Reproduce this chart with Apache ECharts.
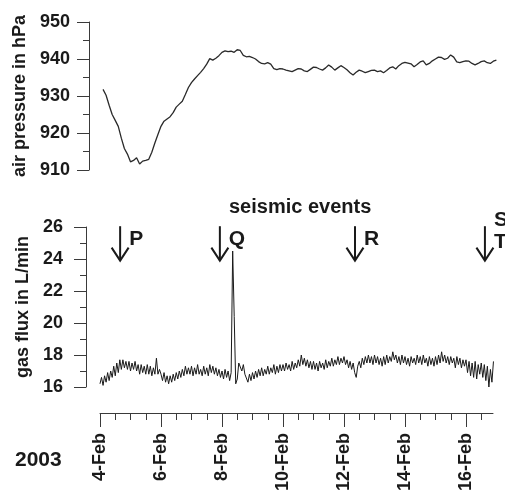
<!DOCTYPE html>
<html><head><meta charset="utf-8">
<script src="https://cdn.jsdelivr.net/npm/echarts@6/dist/echarts.min.js"></script>
<style>html,body{margin:0;padding:0;background:#fff}#c{width:505px;height:495px}</style>
</head><body><div id="c"></div>
<script>
// ---- data ----
const pressureStartDay = 4.1;
const pressureStepDay = 0.1;
const pressureValues = [
 931.8,930.2,927.5,925.0,923.4,921.8,918.6,915.8,914.3,912.2,
 912.6,913.3,911.6,912.4,912.6,912.9,914.8,917.3,919.6,921.8,
 923.2,923.8,924.4,925.5,927.0,927.8,928.6,930.4,932.3,933.6,
 934.6,935.5,936.4,937.4,938.6,940.1,939.7,940.2,940.9,941.8,
 942.2,942.0,942.1,941.8,942.5,942.3,941.0,940.6,940.7,940.4,
 940.0,939.3,938.8,938.7,939.0,938.6,937.4,937.1,937.4,937.3,
 937.0,936.8,936.6,937.0,937.4,937.3,936.8,936.6,937.2,937.8,
 937.7,937.3,937.0,937.6,938.4,937.8,937.0,937.6,938.2,937.7,
 937.1,936.3,935.7,936.4,937.0,936.7,936.3,936.6,936.9,937.0,
 936.6,936.8,936.3,936.9,937.6,937.9,937.3,938.2,938.8,939.1,
 938.9,938.7,937.9,938.5,939.2,939.5,938.4,938.8,939.5,940.0,
 940.5,940.4,939.9,940.2,941.1,940.5,939.2,939.0,939.3,939.5,
 939.4,938.8,938.4,938.8,939.3,939.5,939.0,938.8,939.4,939.7
];
const gasStartDay = 4.0;
const gasStepDay = 0.05;
const gasValues = [
 16.2,16.6,16.1,16.7,16.3,16.9,16.4,17.0,16.6,17.3,16.7,17.5,16.9,17.7,17.1,17.7,17.2,17.6,17.1,17.6,
 17.0,17.5,17.1,17.6,17.0,17.4,16.8,17.4,16.9,17.3,16.8,17.4,16.8,17.3,16.7,17.2,16.8,17.8,16.8,17.1,
 16.8,16.4,16.9,16.3,16.7,16.2,16.7,16.3,16.8,16.4,16.9,16.5,17.0,16.6,17.1,16.7,17.3,16.8,17.2,16.8,
 17.3,16.7,17.2,16.8,17.4,16.8,17.1,16.7,17.3,16.8,17.2,16.7,17.4,16.9,17.3,16.8,17.2,16.7,17.1,16.6,
 17.0,16.5,17.1,16.6,17.0,16.4,16.9,24.5,20.4,16.2,16.5,17.5,17.6,17.0,17.4,16.8,16.9,16.3,16.8,16.4,
 16.9,16.5,17.0,16.6,17.1,16.7,17.2,16.7,17.1,16.8,17.3,16.8,17.2,16.9,17.4,16.8,17.3,16.9,17.4,17.0,
 17.4,17.0,17.5,17.1,17.4,17.0,17.6,17.1,17.5,17.2,17.7,17.3,18.0,17.4,17.8,17.3,17.7,17.2,17.6,17.1,
 17.6,17.1,17.5,17.0,17.6,17.2,17.5,17.1,17.7,17.2,17.6,17.3,17.8,17.3,17.7,17.4,17.9,17.4,17.8,17.5,
 17.9,17.4,17.7,17.2,17.6,17.1,17.5,16.9,16.6,17.3,17.6,17.2,17.8,17.4,17.9,17.5,18.0,17.5,17.9,17.4,
 18.0,17.5,17.9,17.4,17.8,17.3,17.9,17.4,18.0,17.5,17.9,17.6,18.2,17.7,18.0,17.5,17.9,17.4,18.0,17.5,
 17.9,17.4,17.8,17.3,17.9,17.5,17.8,17.4,18.0,17.5,17.9,17.4,18.0,17.5,17.8,17.3,17.9,17.4,17.8,17.3,
 17.9,17.4,18.0,17.5,18.2,17.6,18.0,17.5,17.9,17.4,17.9,17.5,17.8,17.2,17.9,17.4,17.8,17.2,17.7,17.3,
 17.7,16.9,17.6,16.7,17.5,16.6,17.6,16.5,17.4,16.8,17.5,16.6,17.4,16.4,17.3,16.0,17.1,16.3,17.6
];
const eventDays = [4.66, 7.93, 12.36, 16.62];
const eventLabels = ['P', 'Q', 'R', 'S\nT'];
const pressureTicks = [910, 920, 930, 940, 950];
const gasTicks = [16, 18, 20, 22, 24, 26];
const dateTickDays = [4, 6, 8, 10, 12, 14, 16];
const dateTickLabels = ['4-Feb', '6-Feb', '8-Feb', '10-Feb', '12-Feb', '14-Feb', '16-Feb'];
const yearLabel = '2003';
const pressureName = 'air pressure in hPa';
const gasName = 'gas flux in L/min';
const titleText = 'seismic events';

// ---- build ----
const FONT = '"Liberation Sans", Arial, Helvetica, sans-serif';
const INK = '#1a1a1a';
const AX = '#3a3a3a';
const pressureData = pressureValues.map((v, i) => [+(pressureStartDay + i * pressureStepDay).toFixed(3), v]);
const gasData = gasValues.map((v, i) => [+(gasStartDay + i * gasStepDay).toFixed(3), v]);
const eventData = eventDays.map(d => [d, 26]);

const labelStyle = { color: INK, fontFamily: FONT, fontWeight: 'bold', fontSize: 18 };
const yAxisCommon = {
  axisLine: { show: true, lineStyle: { color: AX, width: 1 } },
  axisTick: { show: true, length: 12, lineStyle: { color: AX, width: 1 } },
  minorTick: { show: true, splitNumber: 2, length: 6, lineStyle: { color: AX, width: 1 } },
  splitLine: { show: false }, minorSplitLine: { show: false },
  nameLocation: 'middle', nameRotate: 90,
  nameTextStyle: { color: INK, fontFamily: FONT, fontWeight: 'bold', fontSize: 18 }
};

const chart = echarts.init(document.getElementById('c'), null, { renderer: 'canvas' });
chart.setOption({
  animation: false,
  backgroundColor: '#fff',
  title: { text: titleText, left: 229, top: 197, padding: 0,
    textStyle: { color: INK, fontFamily: FONT, fontWeight: 'bold', fontSize: 20 } },
  grid: [
    { left: 89, top: 22, width: 408, height: 148, containLabel: false, outerBoundsMode: 'none' },
    { left: 86, top: 227, width: 411, height: 160, containLabel: false, outerBoundsMode: 'none' },
    { left: 100, top: 400, width: 393, height: 13, containLabel: false, outerBoundsMode: 'none' }
  ],
  xAxis: [
    { gridIndex: 0, type: 'value', min: 3.64, max: 17.02, show: false },
    { gridIndex: 1, type: 'value', min: 3.541, max: 17.016, show: false },
    { gridIndex: 2, type: 'value', min: dateTickDays[0], max: 16.885, interval: 2, position: 'bottom',
      axisLine: { show: true, lineStyle: { color: AX, width: 1 } },
      axisTick: { show: true, length: 14, customValues: dateTickDays, lineStyle: { color: AX, width: 1 } },
      minorTick: { show: true, splitNumber: 4, length: 7, lineStyle: { color: AX, width: 1 } },
      splitLine: { show: false }, minorSplitLine: { show: false },
      axisLabel: Object.assign({ rotate: 90, margin: 20, customValues: dateTickDays,
        formatter: v => dateTickLabels[dateTickDays.indexOf(v)] || '' }, labelStyle)
    }
  ],
  yAxis: [
    Object.assign({ gridIndex: 0, type: 'value', min: pressureTicks[0], max: pressureTicks[pressureTicks.length - 1],
      interval: 10, name: pressureName, nameGap: 57,
      axisLabel: Object.assign({ margin: 19 }, labelStyle) }, yAxisCommon),
    Object.assign({ gridIndex: 1, type: 'value', min: gasTicks[0], max: gasTicks[gasTicks.length - 1],
      interval: 2, name: gasName, nameGap: 49,
      axisLabel: Object.assign({ margin: 23 }, labelStyle) }, yAxisCommon),
    { gridIndex: 2, type: 'value', min: 0, max: 1, show: false }
  ],
  graphic: [
    { type: 'text', x: 15, y: 460, style: { text: yearLabel, fill: INK, font: 'bold 21px ' + FONT, textVerticalAlign: 'middle' } }
  ],
  series: [
    { type: 'line', xAxisIndex: 0, yAxisIndex: 0, data: pressureData, showSymbol: false, symbol: 'none',
      lineStyle: { color: '#2a2a2a', width: 1.3 }, silent: true },
    { type: 'line', xAxisIndex: 1, yAxisIndex: 1, data: gasData, showSymbol: false, symbol: 'none',
      lineStyle: { color: '#1a1a1a', width: 1 }, silent: true },
    { type: 'custom', xAxisIndex: 1, yAxisIndex: 1, data: eventData, clip: false, silent: true,
      renderItem: function (params, api) {
        const x = api.value(0);
        const top = api.coord([x, 26.05]);
        const bot = api.coord([x, 23.9]);
        const label = eventLabels[params.dataIndex];
        const multi = label.indexOf('\n') >= 0;
        return { type: 'group', children: [
          { type: 'line', shape: { x1: top[0], y1: top[1], x2: bot[0], y2: bot[1] },
            style: { stroke: INK, lineWidth: 2 } },
          { type: 'polyline', shape: { points: [[bot[0] - 8.5, bot[1] - 13], [bot[0], bot[1]], [bot[0] + 8.5, bot[1] - 13]] },
            style: { stroke: INK, lineWidth: 2, fill: 'none' } },
          { type: 'text', x: top[0] + 9, y: top[1] + (multi ? 5 : 13),
            style: { text: label, fill: INK, font: 'bold 21px ' + FONT, textAlign: 'left', textVerticalAlign: 'middle', lineHeight: 22 } }
        ]};
      }
    }
  ]
});
</script></body></html>
